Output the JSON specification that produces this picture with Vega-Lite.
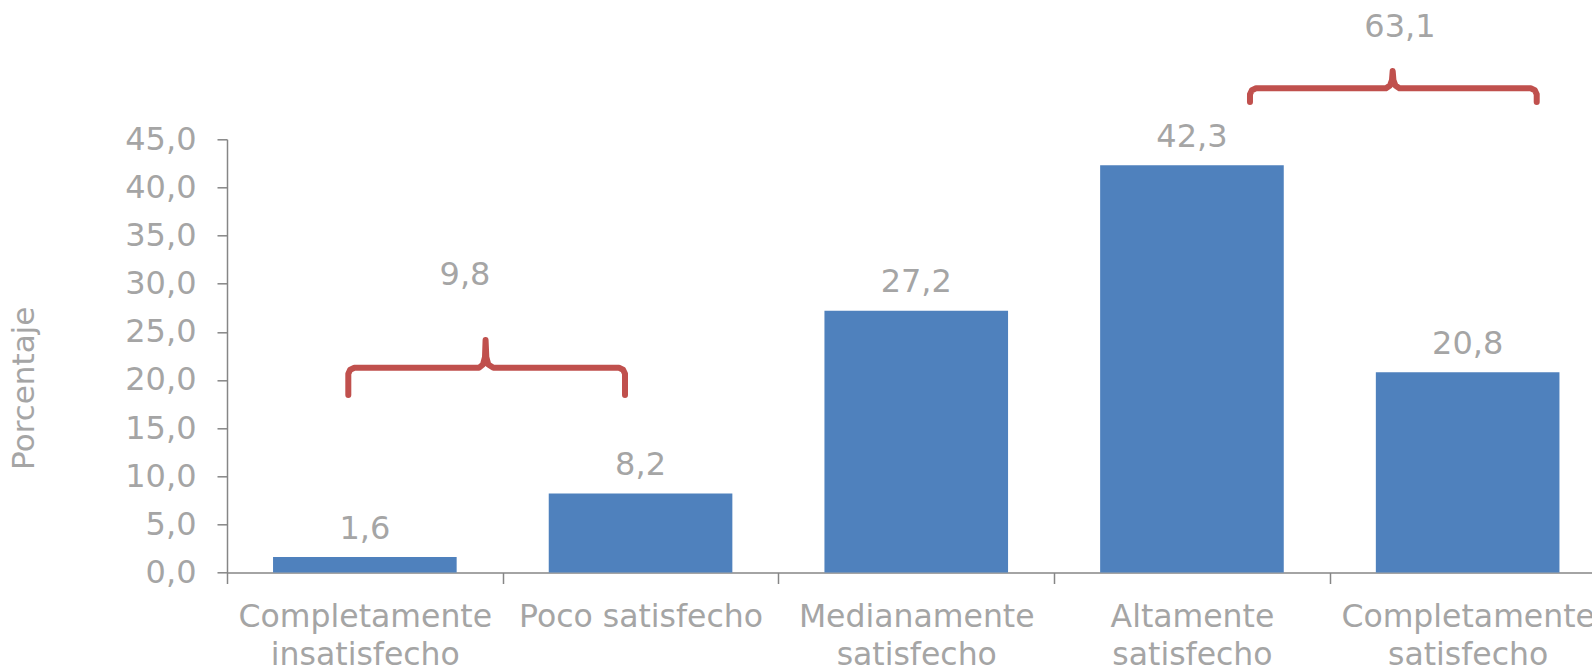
{
  "$schema": "https://vega.github.io/schema/vega-lite/v6.json",
  "autosize": {"type": "none"},
  "width": 1365,
  "height": 433.2,
  "padding": {"left": 227, "top": 139.3, "right": 0, "bottom": 96.5},
  "background": "white",
  "config": {
    "view": {"stroke": null},
    "locale": {"number": {"decimal": ",", "thousands": ".", "grouping": [3], "currency": ["", "€"]}},
    "font": "DejaVu Sans"
  },
  "datasets": {
    "bars": [
      {"categoria": "Completamente insatisfecho", "porcentaje": 1.6},
      {"categoria": "Poco satisfecho", "porcentaje": 8.2},
      {"categoria": "Medianamente satisfecho", "porcentaje": 27.2},
      {"categoria": "Altamente satisfecho", "porcentaje": 42.3},
      {"categoria": "Completamente satisfecho", "porcentaje": 20.8}
    ],
    "braces": [
      {"grupo": "insatisfechos", "orden": 1, "x": 0.440, "y": 18.44},
      {"grupo": "insatisfechos", "orden": 2, "x": 0.440, "y": 20.65},
      {"grupo": "insatisfechos", "orden": 3, "x": 0.447, "y": 21.07},
      {"grupo": "insatisfechos", "orden": 4, "x": 0.462, "y": 21.27},
      {"grupo": "insatisfechos", "orden": 5, "x": 0.914, "y": 21.27},
      {"grupo": "insatisfechos", "orden": 6, "x": 0.9285, "y": 21.61},
      {"grupo": "insatisfechos", "orden": 7, "x": 0.9358, "y": 22.39},
      {"grupo": "insatisfechos", "orden": 8, "x": 0.9379, "y": 24.15},
      {"grupo": "insatisfechos", "orden": 9, "x": 0.9405, "y": 22.39},
      {"grupo": "insatisfechos", "orden": 10, "x": 0.9477, "y": 21.61},
      {"grupo": "insatisfechos", "orden": 11, "x": 0.9663, "y": 21.27},
      {"grupo": "insatisfechos", "orden": 12, "x": 1.4218, "y": 21.27},
      {"grupo": "insatisfechos", "orden": 13, "x": 1.4367, "y": 21.07},
      {"grupo": "insatisfechos", "orden": 14, "x": 1.4436, "y": 20.65},
      {"grupo": "insatisfechos", "orden": 15, "x": 1.4436, "y": 18.44},
      {"grupo": "satisfechos", "orden": 1, "x": 3.7105, "y": 48.87},
      {"grupo": "satisfechos", "orden": 2, "x": 3.7105, "y": 49.67},
      {"grupo": "satisfechos", "orden": 3, "x": 3.7174, "y": 50.10},
      {"grupo": "satisfechos", "orden": 4, "x": 3.7323, "y": 50.30},
      {"grupo": "satisfechos", "orden": 5, "x": 4.2038, "y": 50.30},
      {"grupo": "satisfechos", "orden": 6, "x": 4.2183, "y": 50.59},
      {"grupo": "satisfechos", "orden": 7, "x": 4.2256, "y": 51.16},
      {"grupo": "satisfechos", "orden": 8, "x": 4.2281, "y": 52.09},
      {"grupo": "satisfechos", "orden": 9, "x": 4.2307, "y": 51.16},
      {"grupo": "satisfechos", "orden": 10, "x": 4.2379, "y": 50.59},
      {"grupo": "satisfechos", "orden": 11, "x": 4.2524, "y": 50.30},
      {"grupo": "satisfechos", "orden": 12, "x": 4.7287, "y": 50.30},
      {"grupo": "satisfechos", "orden": 13, "x": 4.7436, "y": 50.10},
      {"grupo": "satisfechos", "orden": 14, "x": 4.7505, "y": 49.67},
      {"grupo": "satisfechos", "orden": 15, "x": 4.7505, "y": 48.87}
    ],
    "braceLabels": [
      {"grupo": "insatisfechos", "x": 0.8633, "y": 29.86, "total": 9.8},
      {"grupo": "satisfechos", "x": 4.2546, "y": 55.66, "total": 63.1}
    ]
  },
  "resolve": {"scale": {"x": "independent"}},
  "layer": [
    {
      "data": {"name": "bars"},
      "layer": [
        {
          "mark": {"type": "bar", "color": "#4f81bd"},
          "encoding": {
            "x": {
              "field": "categoria",
              "type": "nominal",
              "sort": null,
              "scale": {"range": [0, 1378.5], "paddingInner": 0.334, "paddingOuter": 0.167},
              "axis": {
                "title": null,
                "labelAngle": 0,
                "labelFont": "DejaVu Sans",
                "labelFontSize": 31.5,
                "labelColor": "#a5a5a5",
                "labelLineHeight": 38,
                "labelPadding": 18,
                "labelBaseline": "top",
                "labelExpr": "datum.value == 'Poco satisfecho' ? datum.value : split(datum.value, ' ')",
                "tickOffset": -137.85,
                "labelOffset": 137.85,
                "tickSize": 11,
                "tickWidth": 1.5,
                "tickColor": "#868686",
                "domainColor": "#868686",
                "domainWidth": 1.5,
                "labelOverlap": false,
                "labelBound": false,
                "labelFlush": false,
                "labelLimit": 0
              }
            },
            "y": {
              "field": "porcentaje",
              "type": "quantitative",
              "title": "Porcentaje",
              "scale": {"domain": [0, 45], "nice": false, "zero": true},
              "axis": {
                "title": "Porcentaje",
                "titleFont": "DejaVu Sans",
                "titleFontSize": 31,
                "titleFontWeight": "normal",
                "titleColor": "#a5a5a5",
                "titleAngle": 270,
                "titleAlign": "center",
                "titleBaseline": "alphabetic",
                "titleX": -194,
                "titleY": 248.5,
                "values": [0, 5, 10, 15, 20, 25, 30, 35, 40, 45],
                "format": ".1f",
                "labelFont": "DejaVu Sans",
                "labelFontSize": 32,
                "labelColor": "#a5a5a5",
                "labelPadding": 21,
                "tickSize": 10,
                "tickWidth": 1.5,
                "tickColor": "#868686",
                "domainColor": "#868686",
                "domainWidth": 1.5,
                "grid": false
              }
            }
          }
        },
        {
          "mark": {"type": "text", "baseline": "alphabetic", "align": "center", "dy": -18.5, "font": "DejaVu Sans", "fontSize": 32, "color": "#a5a5a5"},
          "encoding": {
            "x": {"field": "categoria", "type": "nominal", "sort": null},
            "y": {"field": "porcentaje", "type": "quantitative", "title": "Porcentaje"},
            "text": {"field": "porcentaje", "type": "quantitative", "format": ".1f"}
          }
        }
      ]
    },
    {
      "data": {"name": "braces"},
      "mark": {"type": "line", "color": "#c0504d", "strokeWidth": 6, "strokeCap": "round", "strokeJoin": "round", "interpolate": "linear"},
      "encoding": {
        "x": {"field": "x", "type": "quantitative", "scale": {"domain": [0, 5], "range": [0, 1378.5], "nice": false, "zero": false}, "axis": null},
        "y": {"field": "y", "type": "quantitative", "title": "Porcentaje", "scale": {"domain": [0, 45], "nice": false}},
        "detail": {"field": "grupo"},
        "order": {"field": "orden", "type": "quantitative"}
      }
    },
    {
      "data": {"name": "braceLabels"},
      "mark": {"type": "text", "baseline": "alphabetic", "align": "center", "font": "DejaVu Sans", "fontSize": 32, "color": "#a5a5a5"},
      "encoding": {
        "x": {"field": "x", "type": "quantitative", "scale": {"domain": [0, 5], "range": [0, 1378.5], "nice": false, "zero": false}, "axis": null},
        "y": {"field": "y", "type": "quantitative", "title": "Porcentaje", "scale": {"domain": [0, 45], "nice": false}},
        "text": {"field": "total", "type": "quantitative", "format": ".1f"}
      }
    }
  ]
}
